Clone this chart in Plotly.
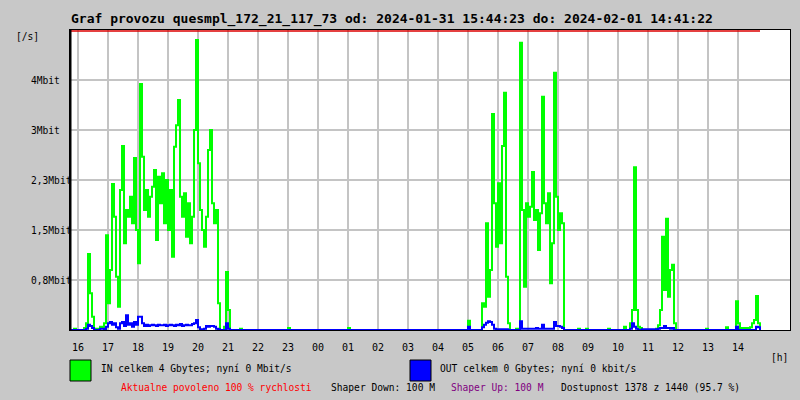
import plotly.graph_objects as go

# ---- data (Mbit/s), one sample per 4 minutes starting 15:44 ----
in_mbit = [
    0, 0, 0.02, 0, 0, 0, 0, 0.03, 0.1, 1.14,
    0.55, 0.2, 0, 0.02, 0, 0.05, 0.03, 0.1, 1.42, 0.4,
    0.9, 2.19, 1.7, 0.8, 0.35, 2.1, 2.76, 1.3, 1.8, 1.7,
    2.0, 1.6, 2.58, 1.5, 1.0, 3.69, 2.6, 1.8, 2.1, 1.7,
    2.0, 2.15, 2.4, 1.35, 2.3, 1.9, 2.35, 1.6, 2.25, 1.5,
    2.1, 1.1, 2.75, 3.07, 3.45, 2.0, 1.7, 2.05, 1.4, 1.9,
    1.3, 1.7, 3.0, 4.35, 2.5, 1.8, 1.5, 1.25, 1.7, 2.7,
    3.0, 1.9, 1.6, 1.8, 0.4, 0, 0, 0.05, 0.87, 0.3,
    0, 0, 0, 0, 0, 0.02, 0, 0, 0, 0,
    0, 0, 0, 0, 0, 0, 0, 0, 0, 0,
    0, 0, 0, 0, 0, 0, 0, 0, 0, 0.03,
    0, 0, 0, 0, 0, 0, 0, 0, 0, 0,
    0, 0, 0, 0, 0, 0, 0, 0, 0, 0,
    0, 0, 0, 0, 0, 0, 0, 0, 0, 0.03,
    0, 0, 0, 0, 0, 0, 0, 0, 0, 0,
    0, 0, 0, 0, 0, 0, 0, 0, 0, 0,
    0, 0, 0, 0, 0, 0, 0, 0, 0, 0,
    0, 0, 0, 0, 0, 0, 0, 0, 0, 0,
    0, 0, 0, 0, 0, 0, 0, 0, 0, 0,
    0, 0, 0, 0, 0, 0, 0, 0, 0, 0.14,
    0, 0, 0, 0, 0, 0, 0.4, 0.35, 1.6, 0.5,
    0.9, 3.24, 1.9, 1.25, 2.2, 1.3, 2.76, 3.56, 0.8, 0.1,
    0, 0, 0, 0.02, 0, 4.31, 1.8, 0.65, 1.9, 1.7,
    1.85, 2.37, 1.65, 1.8, 1.2, 1.75, 3.5, 1.9, 1.6, 2.05,
    0.7, 1.3, 3.86, 2.0, 1.5, 1.75, 1.6, 0, 0, 0,
    0, 0, 0, 0, 0.02, 0, 0, 0, 0.02, 0,
    0, 0, 0, 0, 0, 0, 0, 0, 0, 0.02,
    0, 0, 0, 0, 0, 0, 0, 0.05, 0, 0,
    0.1, 0.3, 2.44, 0.3, 0.05, 0.03, 0, 0, 0, 0,
    0, 0, 0, 0.02, 0.07, 0.3, 1.4, 0.6, 1.67, 0.5,
    0.9, 0.98, 0.1, 0, 0, 0, 0, 0, 0, 0,
    0, 0, 0, 0, 0, 0, 0, 0, 0.02, 0,
    0, 0, 0, 0, 0, 0, 0, 0, 0.04, 0,
    0, 0, 0, 0.43, 0.1, 0, 0.03, 0.02, 0.03, 0,
    0.04, 0.1, 0.15, 0.51, 0.1, 0,
]

out_mbit = [
    0, 0, 0, 0, 0, 0, 0, 0, 0.02, 0.08,
    0.06, 0.03, 0, 0, 0, 0.02, 0.02, 0, 0.05, 0.1,
    0.12, 0.08, 0.1, 0.04, 0.02, 0.1, 0.12, 0.06, 0.22, 0.08,
    0.1, 0.05, 0.12, 0.08, 0.2, 0.2, 0.1, 0.06, 0.08, 0.06,
    0.07, 0.08, 0.07, 0.06, 0.08, 0.07, 0.07, 0.08, 0.06, 0.07,
    0.08, 0.07, 0.06, 0.08, 0.07, 0.09, 0.06, 0.07, 0.08, 0.07,
    0.07, 0.09, 0.1, 0.15, 0.04, 0.01, 0.01, 0.02, 0.06, 0.05,
    0.06, 0.06, 0.05, 0.02, 0.01, 0, 0, 0, 0.1, 0.02,
    0, 0, 0, 0, 0, 0, 0, 0, 0, 0,
    0, 0, 0, 0, 0, 0, 0, 0, 0, 0,
    0, 0, 0, 0, 0, 0, 0, 0, 0, 0,
    0, 0, 0, 0, 0, 0, 0, 0, 0, 0,
    0, 0, 0, 0, 0, 0, 0, 0, 0, 0,
    0, 0, 0, 0, 0, 0, 0, 0, 0, 0,
    0, 0, 0, 0, 0, 0, 0, 0, 0, 0,
    0, 0, 0, 0, 0, 0, 0, 0, 0, 0,
    0, 0, 0, 0, 0, 0, 0, 0, 0, 0,
    0, 0, 0, 0, 0, 0, 0, 0, 0, 0,
    0, 0, 0, 0, 0, 0, 0, 0, 0, 0,
    0, 0, 0, 0, 0, 0, 0, 0, 0, 0.05,
    0, 0, 0, 0, 0, 0, 0.04, 0.08, 0.11, 0.13,
    0.12, 0.08, 0.02, 0.01, 0.01, 0.01, 0.01, 0.01, 0.01, 0,
    0, 0, 0, 0, 0, 0.13, 0.02, 0.02, 0.02, 0.02,
    0.02, 0.02, 0.02, 0.03, 0.02, 0.02, 0.08, 0.02, 0.02, 0.02,
    0.02, 0.02, 0.12, 0.06, 0.06, 0.05, 0.03, 0, 0, 0,
    0, 0, 0, 0, 0, 0, 0, 0, 0, 0,
    0, 0, 0, 0, 0, 0, 0, 0, 0, 0,
    0, 0, 0, 0, 0, 0, 0, 0, 0, 0,
    0.02, 0.1, 0.05, 0.02, 0, 0, 0.01, 0.01, 0.01, 0.01,
    0.01, 0.01, 0.01, 0.01, 0.02, 0.03, 0.03, 0.06, 0.03, 0.03,
    0.02, 0.03, 0, 0, 0, 0, 0, 0, 0, 0,
    0, 0, 0, 0, 0, 0, 0, 0, 0, 0,
    0, 0, 0, 0, 0, 0, 0, 0, 0, 0,
    0, 0, 0, 0.05, 0, 0, 0, 0, 0, 0,
    0, 0, 0, 0.05, 0.04, 0,
]

hour_labels = ["16", "17", "18", "19", "20", "21", "22", "23", "00", "01", "02",
               "03", "04", "05", "06", "07", "08", "09", "10", "11", "12", "13", "14"]
y_tick_values = [0.75, 1.5, 2.25, 3.0, 3.75]
y_tick_labels = ["0,8Mbit", "1,5Mbit", "2,3Mbit", "3Mbit", "4Mbit"]

title_text = "Graf provozu quesmpl_172_21_117_73 od: 2024-01-31 15:44:23 do: 2024-02-01 14:41:22"
in_label = "IN celkem 4 Gbytes; nyní 0 Mbit/s"
out_label = "OUT celkem 0 Gbytes; nyní 0 kbit/s"

SAMPLE_MIN = 4          # minutes per sample
FIRST_HOUR_OFFSET = 16  # 16:00 is 16 minutes after 15:44
X_MAX = 1440
Y_MAX = 4.5

t = [i * SAMPLE_MIN for i in range(len(in_mbit))]
t_out = [i * SAMPLE_MIN for i in range(len(out_mbit))]

BG = "#c8c8c8"
GRID = "#c4c4c4"
FONT = "DejaVu Sans Mono"

# plot area in pixels
L, R, T, B = 70, 790, 30, 330
def px(x):
    return (x - L) / (R - L)
def py(y):
    return (B - y) / (B - T)

fig = go.Figure()
fig.add_trace(go.Scatter(x=t, y=in_mbit, mode="lines", line=dict(color="#00ff00", width=2, shape="hv"),
                         showlegend=False, hoverinfo="skip"))
fig.add_trace(go.Scatter(x=t_out, y=out_mbit, mode="lines", line=dict(color="#0000ff", width=2, shape="hv"),
                         showlegend=False, hoverinfo="skip"))

shapes = [
    dict(type="line", xref="x", yref="paper", x0=0, x1=t[-1], y0=py(31), y1=py(31),
         line=dict(color="#dd0000", width=1.5), layer="above"),
    dict(type="line", xref="paper", yref="paper", x0=px(70.5), x1=px(70.5), y0=0, y1=1,
         line=dict(color="black", width=2), layer="above"),
    dict(type="rect", xref="paper", yref="paper", x0=px(70), x1=px(91), y0=py(360), y1=py(381),
         fillcolor="#00ff00", line=dict(color="black", width=1)),
    dict(type="rect", xref="paper", yref="paper", x0=px(410), x1=px(431), y0=py(360), y1=py(381),
         fillcolor="#0000ff", line=dict(color="black", width=1)),
]

def ann(text, x, y, color="black", size=9.6, anchor="left", bold=False):
    return dict(text=("<b>%s</b>" % text) if bold else text, xref="paper", yref="paper",
                x=px(x), y=py(y), xanchor=anchor, yanchor="middle", showarrow=False,
                font=dict(family=FONT, size=size, color=color))

annotations = [
    ann(title_text, 69, 19, size=13, bold=True),
    ann("[/s]", 14, 37),
    ann("[h]", 769, 357),
    ann(in_label, 99, 368),
    ann(out_label, 438, 368),
    ann("Aktualne povoleno 100 % rychlosti", 119, 387, color="#ff0000"),
    ann("Shaper Down: 100 M", 329, 387),
    ann("Shaper Up: 100 M", 449, 387, color="#800080"),
    ann("Dostupnost 1378 z 1440 (95.7 %)", 559, 387),
]
for v, lab in zip(y_tick_values, y_tick_labels):
    annotations.append(dict(text=lab, xref="paper", yref="y", x=px(29), y=v, xanchor="left",
                            yanchor="middle", showarrow=False,
                            font=dict(family=FONT, size=9.6, color="black")))

fig.update_layout(
    width=800, height=400,
    margin=dict(l=L, r=800 - R, t=T, b=400 - B, pad=0),
    paper_bgcolor=BG, plot_bgcolor="white",
    shapes=shapes, annotations=annotations,
    xaxis=dict(range=[0, X_MAX], tickvals=[FIRST_HOUR_OFFSET + 60 * k for k in range(len(hour_labels))],
               ticktext=hour_labels, showgrid=True, gridcolor=GRID, gridwidth=1.5,
               zeroline=False, showline=True, linecolor="black", linewidth=1, mirror=True,
               ticks="outside", ticklen=8, tickcolor="rgba(0,0,0,0)",
               tickfont=dict(family=FONT, size=10, color="black")),
    yaxis=dict(range=[0, Y_MAX], tickvals=y_tick_values, showticklabels=False,
               showgrid=True, gridcolor=GRID, gridwidth=1.5, zeroline=False,
               showline=True, linecolor="black", linewidth=1, mirror=True),
    font=dict(family=FONT),
)

fig.write_html("out.html", config={"displayModeBar": False},
               post_script="document.body.style.margin='0';")
